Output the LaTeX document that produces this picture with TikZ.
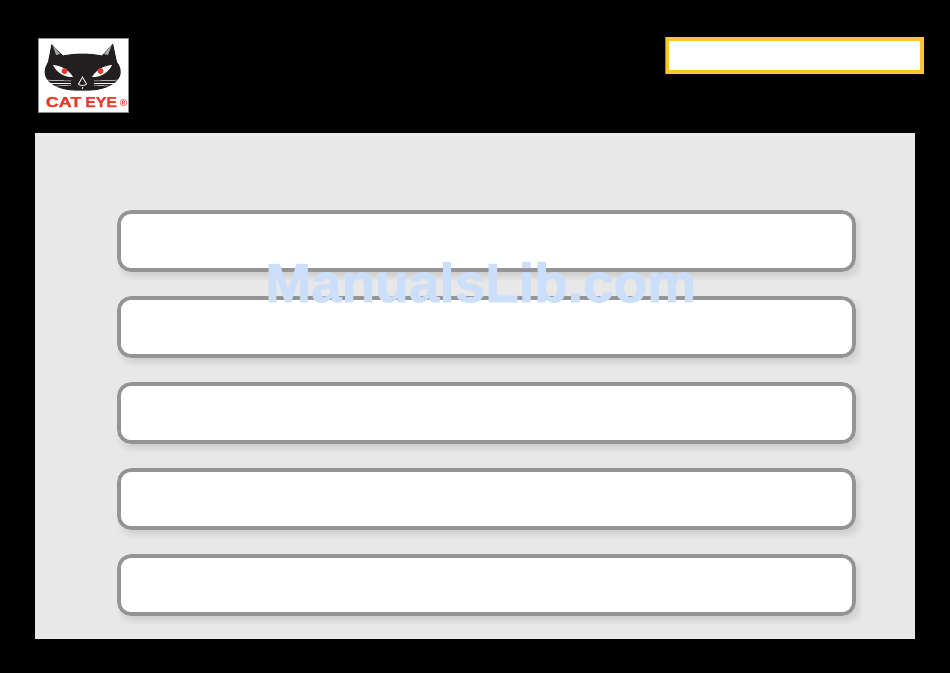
\documentclass[tikz,border=0pt]{standalone}
\usepackage{fontspec}
\setmainfont{Liberation Sans}
\newfontfamily\heavyfont[BoldFeatures={FakeBold=1.2}]{Liberation Sans}
\usepackage{xcolor}
\definecolor{panelgray}{HTML}{E8E8E8}
\definecolor{edgegray}{HTML}{949494}
\definecolor{badgeyellow}{HTML}{FFC630}
\definecolor{markblue}{HTML}{CBDFFA}
\definecolor{logored}{HTML}{E8392A}
\definecolor{catblack}{HTML}{231F20}
\tikzset{
	rowbox/.style={draw=edgegray, line width=3.6pt, fill=white, rounded corners=12pt, minimum width=735pt, minimum height=58pt, inner sep=0pt},
	rowshade/.style={fill=black, fill opacity=0.011, rounded corners=14pt, minimum width=#1, minimum height=#1-677pt, inner sep=0pt},
	whisker/.style={white, line width=0.5pt},
	logotext/.style={anchor=base west, inner sep=0pt, text=logored, font=\heavyfont\bfseries\fontsize{14.4}{14.4}\selectfont},
}
\begin{document}
\begin{tikzpicture}[x=1pt, y=-1pt]
	\useasboundingbox (0,0) rectangle (950,673);
	\fill[black] (0,0) rectangle (950,673);
	
	% Panel
	\fill[panelgray] (35,133) rectangle (915,639);
	
	% Rows
	\foreach \row/\ypos in {1/241, 2/327, 3/413, 4/499, 5/585} {
		\foreach \grow in {732,734,...,746}
			\node[rowshade=\grow*1pt] at (490,\ypos+5) {};
		\node[rowbox] (row\row) at (486.5,\ypos) {};
	}
	
	% Badge
	\node[draw=badgeyellow, line width=4pt, fill=white, minimum width=255pt, minimum height=33pt, inner sep=0pt] (badge) at (794.5,55.5) {};
	\draw[black!35!badgeyellow, line width=1pt] (665.5,37) -- (665.5,74);
	
	% Logo
	\node[draw=black!45, line width=1pt, fill=white, minimum width=90pt, minimum height=74pt, inner sep=0pt] (logo) at (83.5,75.5) {};
	
	% Cat head
	\fill[catblack] (51.5,44) -- (63,55.5) .. controls (75,53) and (90,53) .. (102,55.5)
		-- (113,43.5) -- (117,62) .. controls (123,70) and (122,78) .. (113,84)
		.. controls (104,90) and (92,91) .. (82.5,90.5)
		.. controls (72,91) and (60,90) .. (52,84)
		.. controls (43,78) and (43,70) .. (48,62) -- cycle;
	\fill[black!35] (52.7,45) -- (60,54) -- (56,55) -- cycle;
	\fill[black!35] (111.7,45) -- (104,54) -- (108,55) -- cycle;
	
	% Eyes
	\fill[white] (53,65) .. controls (60,65.5) and (68,69) .. (73,77) .. controls (65,77.5) and (57,73) .. cycle;
	\fill[white] (112,65) .. controls (105,65.5) and (97,69) .. (92,77) .. controls (100,77.5) and (108,73) .. cycle;
	\fill[logored] (64.5,71) circle (3pt);
	\fill[logored] (100.5,71) circle (3pt);
	
	% Nose
	\draw[white, line width=0.8pt] (82.5,77) -- (86.5,84) .. controls (85,86) and (80,86) .. (78.5,84) -- cycle;
	\fill[white] (82.5,88) circle (0.8pt);
	
	% Whiskers
	\foreach \ytip/\yend in {80/81, 83/83, 87/85} {
		\draw[whisker] (43,\ytip) -- (71,\yend);
		\draw[whisker] (122,\ytip) -- (94,\yend);
	}
	
	% Logo text
	\node[logotext] (catname) at (45.5,107) {\scalebox{1.25}[1]{CAT}};
	\node[logotext] (eyename) at (85,107) {\scalebox{1.1}[1]{EYE}};
	\node[inner sep=0pt, text=logored, font=\bfseries\fontsize{10}{10}\selectfont] (regmark) at (123.5,103.5) {®};
	
	% Watermark
	\node[anchor=base west, inner sep=0pt, text=markblue, font=\heavyfont\bfseries\fontsize{55}{55}\selectfont] (watermark) at (265,302) {ManualsLib.com};
\end{tikzpicture}
\end{document}
